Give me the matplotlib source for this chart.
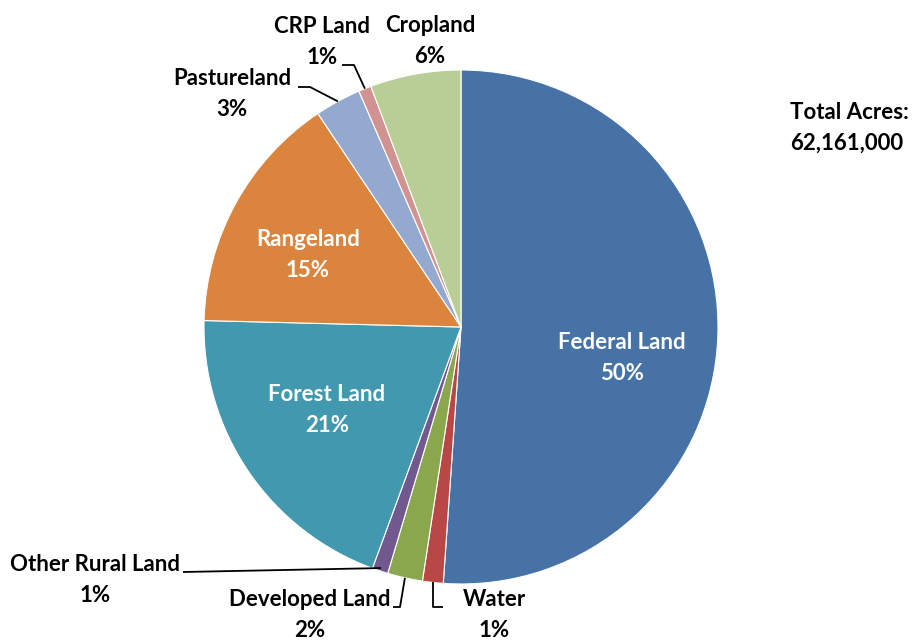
"""Land use pie chart: share of total acres by land type."""

import matplotlib
matplotlib.use('Agg')

import numpy as np
import matplotlib.pyplot as plt

# ── Data ────────────────────────────────────────────────────────────────────
categories = ['Federal Land', 'Water', 'Developed Land', 'Other Rural Land',
              'Forest Land', 'Rangeland', 'Pastureland', 'CRP Land', 'Cropland']
shares = [51.1, 1.3, 2.2, 1.0, 19.8, 15.2, 2.9, 0.8, 5.7]   # percent
pct_labels = ['50%', '1%', '2%', '1%', '21%', '15%', '3%', '1%', '6%']
total_acres = '62,161,000'

colors = ['#4672A6', '#B94745', '#8AA74E', '#71588F', '#4198AF',
          '#DB843D', '#93A9D0', '#D09392', '#B9CD97']

plt.rcParams['font.family'] = ['Lato', 'DejaVu Sans']

W, H = 923, 640
CX, CY, R = 461, 640 - 327, 257


def rim(theta_deg, r=R):
    t = np.radians(theta_deg)
    return CX + r * np.cos(t), CY + r * np.sin(t)


def main() -> None:
    fig = plt.figure(figsize=(W / 100, H / 100), dpi=100)
    ax = fig.add_axes([0, 0, 1, 1])

    wedges, _ = ax.pie(shares, colors=colors, startangle=90, counterclock=False,
                       center=(CX, CY), radius=R, frame=True,
                       wedgeprops=dict(edgecolor='white', linewidth=0.8))
    ax.set_xlim(0, W)
    ax.set_ylim(0, H)
    ax.set_aspect('equal')
    ax.axis('off')

    fs = 16
    ls = 1.55
    inside = {0: (622, 640 - 358), 4: (327, 640 - 410), 5: (308, 640 - 255)}
    for i, (x, y) in inside.items():
        ax.text(x, y, f"{categories[i]}\n{pct_labels[i]}", ha='center', va='center',
                fontsize=fs, fontweight='bold', color='white', linespacing=ls)

    outside = {8: (430, 640 - 41), 7: (322, 640 - 42), 6: (232, 640 - 94),
               3: (95, 640 - 580), 2: (310, 640 - 615), 1: (494, 640 - 615)}
    for i, (x, y) in outside.items():
        ax.text(x, y, f"{categories[i]}\n{pct_labels[i]}", ha='center', va='center',
                fontsize=fs, fontweight='bold', color='black', linespacing=ls)

    # leader lines (label side -> slice rim)
    def mid(i):
        w = wedges[i]
        return (w.theta1 + w.theta2) / 2

    lk = dict(color='black', lw=1.3, solid_capstyle='butt')
    x, y = rim(mid(7))
    ax.plot([342, 354, x], [640 - 65, 640 - 65, y], **lk)
    x, y = rim(mid(6))
    ax.plot([298, 310, x], [640 - 87, 640 - 87, y], **lk)
    x, y = rim(mid(3), R - 3)
    ax.plot([183, x], [640 - 572, y], **lk)
    x, y = rim(mid(2))
    ax.plot([393, 400, x], [640 - 607, 640 - 607, y], **lk)
    x, y = rim(mid(1))
    ax.plot([x, x, x + 10], [y, 640 - 607, 640 - 607], **lk)

    ax.text(790, 640 - 128, f"Total Acres:\n{total_acres}", ha='left', va='center',
            fontsize=fs, fontweight='bold', color='black', linespacing=ls)

    fig.savefig('out.png', dpi=100, facecolor='white')
    plt.close(fig)


if __name__ == "__main__":
    main()
